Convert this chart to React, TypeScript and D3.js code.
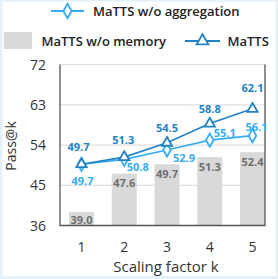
import React, { useEffect, useRef } from "react";
import { select, scaleLinear, line, symbol, symbolDiamond, symbolTriangle } from "d3";

const ks = [1, 2, 3, 4, 5];
const memoryless = [39.0, 47.6, 49.7, 51.3, 52.4];
const noAggregation = [49.7, 50.8, 52.9, 55.1, 56.1];
const matts = [49.7, 51.3, 54.5, 58.8, 62.1];
const yTicks = [36, 45, 54, 63, 72];

// label placement relative to the marker
const aggLabelPos = [
  [1, 16.5],
  [13.5, 7.5],
  [17, 8],
  [15, -7.5],
  [4, -8.5],
];
const mattsLabelPos = [
  [-3, -17],
  [-1, -17],
  [0, -15],
  [0, -15],
  [0, -21],
];

const DARK = "#2382c6";
const LIGHT = "#33adf5";
const BAR = "#d9d9d9";
const FONT = "'Open Sans', Lato, sans-serif";

const App: React.FC = () => {
  const svgRef = useRef<SVGSVGElement | null>(null);

  useEffect(() => {
    const width = 278;
    const height = 279;
    const left = 60;
    const right = 265;
    const top = 64.6;
    const bottom = 225.5;

    const svg = select(svgRef.current);
    svg.selectAll("*").remove();
    svg.attr("width", width).attr("height", height);

    svg
      .append("rect")
      .attr("x", 1)
      .attr("y", 0)
      .attr("width", width - 2)
      .attr("height", height - 1.5)
      .attr("fill", "white")
      .attr("stroke", "#e4f1fb")
      .attr("stroke-width", 3);

    const x = scaleLinear().domain([1, 5]).range([81.5, 252.5]);
    const y = scaleLinear().domain([36, 72]).range([bottom, top]);

    // grid
    svg
      .append("g")
      .selectAll("line")
      .data(yTicks.slice(1))
      .join("line")
      .attr("x1", left)
      .attr("x2", right)
      .attr("y1", (d) => y(d))
      .attr("y2", (d) => y(d))
      .attr("stroke", "#e0e0e0")
      .attr("stroke-width", 1.3);

    // bars
    const barW = 25;
    svg
      .append("g")
      .selectAll("rect")
      .data(memoryless)
      .join("rect")
      .attr("x", (d, i) => x(ks[i]) - barW / 2)
      .attr("y", (d) => y(d))
      .attr("width", barW)
      .attr("height", (d) => bottom - y(d))
      .attr("fill", BAR);

    svg
      .append("g")
      .selectAll("text")
      .data(memoryless)
      .join("text")
      .attr("x", (d, i) => x(ks[i]))
      .attr("y", (d) => Math.min(y(d) + 13.5, bottom - 1.5))
      .attr("text-anchor", "middle")
      .attr("font-family", FONT)
      .attr("font-weight", 700)
      .attr("font-size", 11)
      .attr("fill", "#6e6e6e")
      .text((d) => d.toFixed(1));

    // frame
    svg
      .append("path")
      .attr("d", `M${left},${top}V${bottom}H${right}V${top}`)
      .attr("fill", "none")
      .attr("stroke", "#555")
      .attr("stroke-width", 1.3);

    const mk = line<number>()
      .x((d, i) => x(ks[i]))
      .y((d) => y(d));

    const drawSeries = (
      vals: number[],
      color: string,
      sym: any,
      size: number,
      pos: number[][]
    ) => {
      const g = svg.append("g");
      g.append("path")
        .attr("d", mk(vals))
        .attr("fill", "none")
        .attr("stroke", color)
        .attr("stroke-width", 1.6);
      g.selectAll("path.m")
        .data(vals)
        .join("path")
        .attr("class", "m")
        .attr("d", symbol(sym, size)())
        .attr("transform", (d, i) => `translate(${x(ks[i])},${y(d)})`)
        .attr("fill", "white")
        .attr("stroke", color)
        .attr("stroke-width", 1.8);
      g.selectAll("text")
        .data(vals)
        .join("text")
        .attr("x", (d, i) => x(ks[i]) + pos[i][0])
        .attr("y", (d, i) => y(d) + pos[i][1] + 4)
        .attr("text-anchor", "middle")
        .attr("font-family", FONT)
        .attr("font-weight", 700)
        .attr("font-size", 11)
        .attr("fill", color)
        .text((d) => d.toFixed(1));
    };

    drawSeries(noAggregation, LIGHT, symbolDiamond, 50, aggLabelPos);
    drawSeries(matts, DARK, symbolTriangle, 45, mattsLabelPos);

    // y axis ticks
    svg
      .append("g")
      .selectAll("text")
      .data(yTicks)
      .join("text")
      .attr("x", 46)
      .attr("y", (d) => y(d) + 5)
      .attr("text-anchor", "end")
      .attr("font-family", FONT)
      .attr("font-size", 14)
      .attr("fill", "#333")
      .text((d) => d);

    svg
      .append("g")
      .selectAll("text")
      .data(ks)
      .join("text")
      .attr("x", (d) => x(d))
      .attr("y", 251.5)
      .attr("text-anchor", "middle")
      .attr("font-family", FONT)
      .attr("font-size", 14)
      .attr("fill", "#333")
      .text((d) => d);

    svg
      .append("text")
      .attr("transform", `translate(16,146) rotate(-90)`)
      .attr("text-anchor", "middle")
      .attr("font-family", FONT)
      .attr("font-size", 14)
      .attr("fill", "#333")
      .text("Pass@k");

    svg
      .append("text")
      .attr("x", 166)
      .attr("y", 272)
      .attr("text-anchor", "middle")
      .attr("font-family", FONT)
      .attr("font-size", 15)
      .attr("fill", "#333")
      .text("Scaling factor k");

    // legend
    const lg = svg.append("g").attr("font-family", FONT).attr("font-weight", 600).attr("font-size", 13).attr("fill", "#222");
    lg.append("line").attr("x1", 51).attr("x2", 84).attr("y1", 11).attr("y2", 11).attr("stroke", LIGHT).attr("stroke-width", 1.8);
    lg.append("path").attr("d", symbol(symbolDiamond, 60)()).attr("transform", "translate(67.5,11)").attr("fill", "white").attr("stroke", LIGHT).attr("stroke-width", 1.8);
    lg.append("text").attr("x", 93).attr("y", 15.5).text("MaTTS w/o aggregation");

    lg.append("rect").attr("x", 4).attr("y", 32).attr("width", 28).attr("height", 17).attr("fill", BAR);
    lg.append("text").attr("x", 41.5).attr("y", 45.5).text("MaTTS w/o memory");

    lg.append("line").attr("x1", 185).attr("x2", 220).attr("y1", 41).attr("y2", 41).attr("stroke", DARK).attr("stroke-width", 1.8);
    lg.append("path").attr("d", symbol(symbolTriangle, 60)()).attr("transform", "translate(202.5,41)").attr("fill", "white").attr("stroke", DARK).attr("stroke-width", 1.8);
    lg.append("text").attr("x", 227.5).attr("y", 45.5).text("MaTTS");
  }, []);

  return <svg ref={svgRef} style={{ display: "block", position: "absolute", left: 0, top: 0 }} />;
};

export default App;
